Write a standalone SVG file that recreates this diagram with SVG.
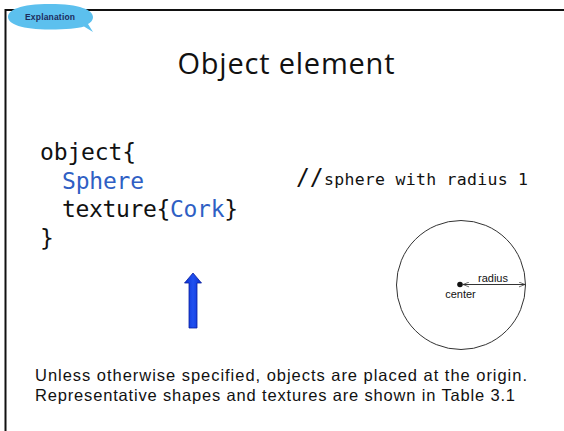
<svg xmlns="http://www.w3.org/2000/svg" width="564" height="431" viewBox="0 0 564 431">
  <style>
    .code { font-family: "DejaVu Sans Mono", "Liberation Mono", monospace; fill: #111; }
    .kw { fill: #2f5fc4; }
    .sans { font-family: "Liberation Sans", Arial, sans-serif; fill: #111; }
  </style>
  <defs>
    <linearGradient id="blueArrow" x1="0" y1="0" x2="1" y2="0">
      <stop offset="0" stop-color="#0a2fd0"/>
      <stop offset="0.5" stop-color="#2050f0"/>
      <stop offset="1" stop-color="#0a2fd0"/>
    </linearGradient>
    <marker id="tip" viewBox="0 0 10 10" refX="10" refY="5" markerWidth="6" markerHeight="6" orient="auto-start-reverse">
      <path d="M0,1 L10,5 L0,9" fill="none" stroke="#333" stroke-width="1.2"/>
    </marker>
  </defs>
  <rect width="564" height="431" fill="#fff"/>

  <!-- slide frame (top and left edges) -->
  <path d="M5.5,431 V10 H564" fill="none" stroke="#111" stroke-width="2"/>

  <!-- badge -->
  <g id="badge">
    <path d="M50,4 C20,4 8,10 8,17 C8,24 22,29.5 50,29.5 C66,29.5 78,28.5 84,26.5 L93,32 L88,24 C92,22 93,19 93,17 C93,10 80,4 50,4 Z" fill="#5cc0ee"/>
    <text x="25" y="20" font-family="Liberation Sans, Arial, sans-serif" font-size="8.5" font-weight="bold" fill="#1c2b5c" textLength="50">Explanation</text>
  </g>

  <!-- title -->
  <text x="286" y="74" text-anchor="middle" font-family="Open Sans, Noto Sans, sans-serif" font-size="29" fill="#111" textLength="217">Object element</text>

  <!-- code block -->
  <g id="code">
    <text class="code" x="40" y="160" font-size="23" textLength="96">object{</text>
    <text class="code kw" x="62" y="189" font-size="23" textLength="82">Sphere</text>
    <text class="code" x="62" y="217" font-size="23" textLength="176">texture{<tspan class="kw">Cork</tspan>}</text>
    <text class="code" x="40" y="246" font-size="23">}</text>
    <text class="code" x="296" y="185" font-size="23">//</text>
    <text class="code" x="324" y="185" font-size="16.5" textLength="204">sphere with radius 1</text>
  </g>

  <!-- upward arrow -->
  <g id="pointer">
    <path d="M193,273 L201.5,283 L197,283 L197,328 L189,328 L189,283 L184.5,283 Z" fill="url(#blueArrow)" stroke="#0a20a0" stroke-width="0.8"/>
  </g>

  <!-- sphere sketch -->
  <g id="sphere">
    <circle cx="461" cy="285" r="64.5" fill="none" stroke="#333" stroke-width="1"/>
    <circle cx="460" cy="284.5" r="2.8" fill="#111"/>
    <line x1="463" y1="284.5" x2="525" y2="284.5" stroke="#333" stroke-width="1" marker-start="url(#tip)" marker-end="url(#tip)"/>
    <text class="sans" x="493" y="281.5" font-size="11" text-anchor="middle">radius</text>
    <text class="sans" x="460.5" y="298" font-size="11" text-anchor="middle">center</text>
  </g>

  <!-- caption -->
  <text class="sans" x="35" y="381" font-size="16.5" textLength="492">Unless otherwise specified, objects are placed at the origin.</text>
  <text class="sans" x="35" y="401" font-size="16.5" textLength="480">Representative shapes and textures are shown in Table 3.1</text>
</svg>
